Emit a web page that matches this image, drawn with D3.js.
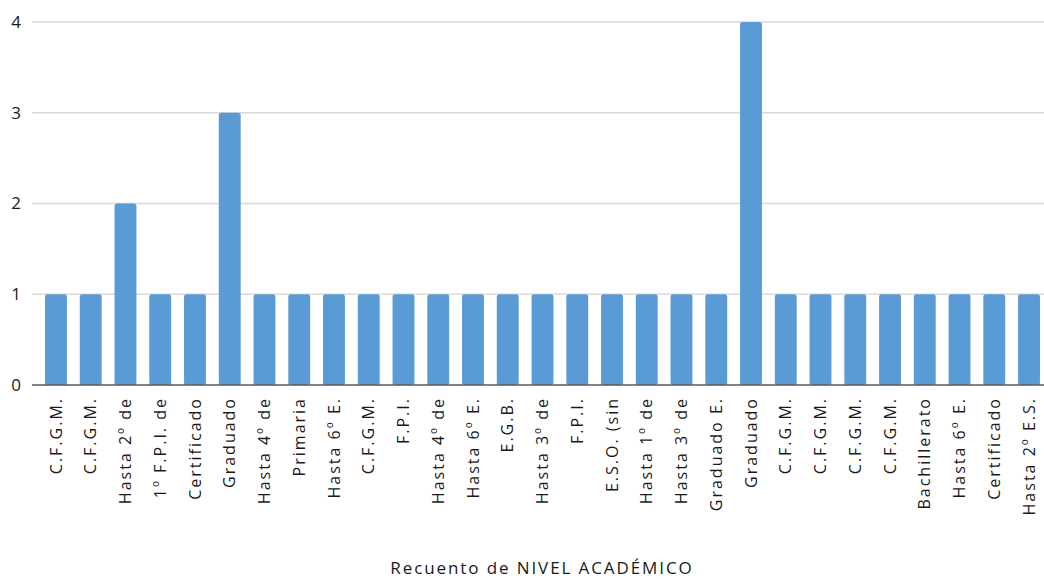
<!DOCTYPE html>
<html>
<head>
<meta charset="utf-8">
<script src="https://cdn.jsdelivr.net/npm/d3@7"></script>
<style>
  body { margin: 0; background: #fff; }
  text { font-family: "Open Sans", "DejaVu Sans", sans-serif; }
</style>
</head>
<body>
<div class="chart_viz"></div>
<script>
var categories = ["C.F.G.M.", "C.F.G.M.", "Hasta 2º de", "1º F.P.I. de", "Certificado", "Graduado",
  "Hasta 4º de", "Primaria", "Hasta 6º E.", "C.F.G.M.", "F.P.I.", "Hasta 4º de", "Hasta 6º E.",
  "E.G.B.", "Hasta 3º de", "F.P.I.", "E.S.O. (sin", "Hasta 1º de", "Hasta 3º de", "Graduado E.",
  "Graduado", "C.F.G.M.", "C.F.G.M.", "C.F.G.M.", "C.F.G.M.", "Bachillerato", "Hasta 6º E.",
  "Certificado", "Hasta 2º E.S."];
var counts = [1, 1, 2, 1, 1, 3, 1, 1, 1, 1, 1, 1, 1, 1, 1, 1, 1, 1, 1, 1, 4, 1, 1, 1, 1, 1, 1, 1, 1];
var yTicks = [0, 1, 2, 3, 4];
var axisTitle = "Recuento de NIVEL ACADÉMICO";

var width = 1044, height = 579;
var margin = {left: 32, right: 0, top: 22, bottom: 194};

var svg = d3.select(".chart_viz").append("svg")
  .attr("width", width)
  .attr("height", height);

var x = d3.scaleBand()
  .domain(d3.range(categories.length))
  .range([38.6, 1046.4])
  .paddingInner(0.37)
  .paddingOuter(0.185);

var y = d3.scaleLinear()
  .domain([0, 4])
  .range([height - margin.bottom, margin.top]);

// gridlines
svg.append("g")
  .selectAll("line")
  .data(yTicks.filter(function(d) { return d > 0; }))
  .join("line")
  .attr("x1", margin.left)
  .attr("x2", width - margin.right)
  .attr("y1", function(d) { return y(d); })
  .attr("y2", function(d) { return y(d); })
  .attr("stroke", "#d9d9d9")
  .attr("stroke-width", 1.5);

// y labels
svg.append("g")
  .selectAll("text")
  .data(yTicks)
  .join("text")
  .attr("x", 21)
  .attr("y", function(d) { return y(d); })
  .attr("dy", "0.35em")
  .attr("text-anchor", "end")
  .attr("font-size", 17)
  .attr("fill", "#1a1a1a")
  .text(function(d) { return d; });

// bars
svg.append("g")
  .selectAll("rect")
  .data(counts)
  .join("rect")
  .attr("x", function(d, i) { return x(i); })
  .attr("width", x.bandwidth())
  .attr("y", function(d) { return y(d); })
  .attr("height", function(d) { return y(0) - y(d); })
  .attr("rx", 2.5)
  .attr("fill", "#5b9bd5");

// baseline
svg.append("line")
  .attr("x1", margin.left)
  .attr("x2", width - margin.right)
  .attr("y1", y(0))
  .attr("y2", y(0))
  .attr("stroke", "#595959")
  .attr("stroke-width", 1.5);

// category labels
svg.append("g")
  .selectAll("text")
  .data(categories)
  .join("text")
  .attr("transform", function(d, i) {
    return "translate(" + (x(i) + x.bandwidth() / 2) + "," + (y(0) + 12) + ") rotate(-90)";
  })
  .attr("text-anchor", "end")
  .attr("dy", "0.35em")
  .attr("font-size", 16)
  .attr("letter-spacing", 2)
  .attr("fill", "#1a1a1a")
  .text(function(d) { return d; });

svg.append("text")
  .attr("x", 542)
  .attr("y", 568)
  .attr("dy", "0.35em")
  .attr("text-anchor", "middle")
  .attr("font-size", 17)
  .attr("letter-spacing", 1.9)
  .attr("fill", "#1a1a1a")
  .text(axisTitle);
</script>
</body>
</html>
